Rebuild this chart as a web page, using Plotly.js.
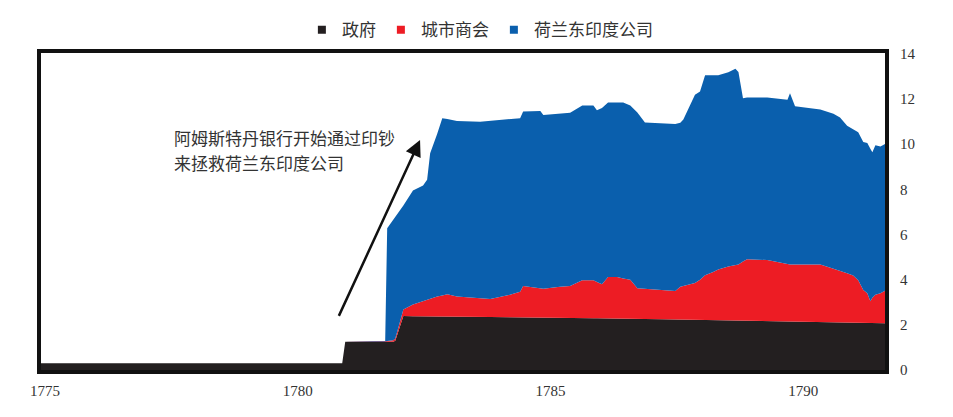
<!DOCTYPE html>
<html>
<head>
<meta charset="utf-8">
<script src="https://cdn.plot.ly/plotly-3.0.1.min.js"></script>
<style>
  html, body { margin: 0; padding: 0; background: #fff; }
  #chart { width: 953px; height: 417px; }
</style>
</head>
<body>
<div id="chart"></div>
<script>
// levels (stacked tops, not the single layers)
const years = [
  1774.84, 1780.88, 1780.94, 1781.73, 1781.77, 1781.89, 1781.93, 1781.97, 1782.09, 1782.28,
  1782.48, 1782.56, 1782.62, 1782.76, 1782.86, 1782.96, 1783.15, 1783.61, 1783.81, 1784.20,
  1784.40, 1784.46, 1784.80, 1784.86, 1785.19, 1785.39, 1785.63, 1785.85, 1785.92, 1786.02,
  1786.14, 1786.32, 1786.44, 1786.58, 1786.72, 1786.87, 1787.23, 1787.47, 1787.57, 1787.63,
  1787.86, 1787.96, 1788.06, 1788.22, 1788.32, 1788.52, 1788.66, 1788.72, 1788.81, 1788.89,
  1789.29, 1789.69, 1789.74, 1789.84, 1790.34, 1790.60, 1790.73, 1790.87, 1790.99, 1791.09,
  1791.19, 1791.27, 1791.33, 1791.37, 1791.43, 1791.53, 1791.64
];
// 政府
const govTop = [
  0.30, 0.30, 1.25, 1.25, 1.25, 1.25, 1.30, 1.55, 2.39, 2.38,
  2.38, 2.38, 2.38, 2.37, 2.37, 2.37, 2.36, 2.35, 2.35, 2.34,
  2.33, 2.33, 2.32, 2.32, 2.31, 2.31, 2.30, 2.29, 2.29, 2.29,
  2.28, 2.28, 2.27, 2.27, 2.26, 2.26, 2.25, 2.24, 2.24, 2.24,
  2.23, 2.23, 2.22, 2.22, 2.21, 2.21, 2.20, 2.20, 2.20, 2.19,
  2.18, 2.17, 2.17, 2.16, 2.14, 2.13, 2.12, 2.12, 2.11, 2.10,
  2.10, 2.09, 2.09, 2.09, 2.08, 2.08, 2.07
];
// 政府 + 城市商会
const cityTop = [
  0.30, 0.30, 1.25, 1.25, 1.28, 1.32, 1.40, 1.70, 2.68, 2.90,
  3.05, 3.12, 3.18, 3.25, 3.30, 3.36, 3.25, 3.20, 3.15, 3.33,
  3.47, 3.72, 3.62, 3.60, 3.69, 3.72, 3.98, 3.98, 3.90, 3.80,
  4.12, 4.12, 4.05, 4.00, 3.62, 3.60, 3.55, 3.50, 3.69, 3.72,
  3.85, 4.00, 4.20, 4.34, 4.45, 4.58, 4.62, 4.67, 4.80, 4.91,
  4.87, 4.67, 4.67, 4.67, 4.67, 4.48, 4.40, 4.28, 4.19, 3.98,
  3.54, 3.40, 3.04, 3.20, 3.33, 3.40, 3.54
];
// 政府 + 城市商会 + 荷兰东印度公司
const vocTop = [
  0.30, 0.30, 1.25, 1.25, 6.28, 6.65, 6.80, 6.93, 7.29, 7.95,
  8.17, 8.43, 9.60, 10.46, 11.15, 11.12, 11.03, 11.00, 11.03, 11.10,
  11.15, 11.45, 11.47, 11.29, 11.35, 11.39, 11.72, 11.72, 11.50, 11.60,
  11.85, 11.87, 11.85, 11.72, 11.40, 10.96, 10.92, 10.89, 10.95, 11.10,
  12.19, 12.33, 13.05, 13.05, 13.05, 13.19, 13.34, 13.20, 12.04, 12.07,
  12.07, 11.97, 12.26, 11.68, 11.54, 11.35, 11.18, 10.82, 10.65, 10.53,
  10.10, 10.05, 9.80, 9.64, 9.95, 9.90, 10.03
];

const seriesNames = ['政府', '城市商会', '荷兰东印度公司'];
const seriesColors = ['#231f20', '#ed1c24', '#0a5fad'];
const xTicks = [1775, 1780, 1785, 1790];
const yTicks = [0, 2, 4, 6, 8, 10, 12, 14];
const noteLines = ['阿姆斯特丹银行开始通过印钞', '来拯救荷兰东印度公司'];

const cjk = '"Noto Sans CJK SC", "Noto Sans", sans-serif';
const serif = '"Liberation Serif", "DejaVu Serif", serif';

const levels = [govTop, cityTop, vocTop];
const traces = levels.map((ys, i) => ({
  x: years, y: ys, type: 'scatter', mode: 'lines',
  line: { width: 0, color: seriesColors[i] },
  fill: i === 0 ? 'tozeroy' : 'tonexty',
  fillcolor: seriesColors[i],
  showlegend: false, hoverinfo: 'skip'
}));
// square legend keys
seriesNames.forEach((n, i) => {
  traces.push({
    x: [null], y: [null], type: 'scatter', mode: 'markers', name: n,
    marker: { symbol: 'square', size: 8, color: seriesColors[i] }
  });
});

const layout = {
  width: 953, height: 417,
  margin: { l: 41, r: 68, t: 49, b: 47 },
  paper_bgcolor: '#fff', plot_bgcolor: '#fff',
  showlegend: true,
  legend: {
    orientation: 'h', traceorder: 'normal',
    x: 0.52, xanchor: 'center', y: 1.072, yanchor: 'middle',
    font: { family: cjk, size: 17, color: '#333' }
  },
  xaxis: {
    range: [1774.92, 1791.62], tickvals: xTicks, ticktext: xTicks.map(String),
    showgrid: false, zeroline: false,
    showline: true, mirror: true, linewidth: 4, linecolor: '#111',
    ticks: 'outside', ticklen: 4, tickcolor: 'rgba(0,0,0,0)',
    tickfont: { family: serif, size: 15, color: '#333' }
  },
  yaxis: {
    range: [0, 14.04], side: 'right', tickvals: yTicks,
    showgrid: false, zeroline: false,
    showline: true, mirror: true, linewidth: 4, linecolor: '#111',
    ticks: 'outside', ticklen: 8, tickcolor: 'rgba(0,0,0,0)',
    tickfont: { family: serif, size: 15, color: '#333' }
  },
  annotations: [
    {
      x: 1782.42, y: 10.19, ax: 1780.80, ay: 2.33,
      xref: 'x', yref: 'y', axref: 'x', ayref: 'y',
      text: '', showarrow: true, arrowhead: 2, arrowsize: 1.3,
      arrowwidth: 2.5, arrowcolor: '#111'
    },
    ...noteLines.map((t, i) => ({
      x: 1777.51, y: i === 0 ? 10.28 : 9.19, xref: 'x', yref: 'y',
      xanchor: 'left', yanchor: 'middle', showarrow: false,
      text: t, font: { family: cjk, size: 17, color: '#333' }
    }))
  ]
};

Plotly.newPlot('chart', traces, layout, { staticPlot: true });
</script>
</body>
</html>
